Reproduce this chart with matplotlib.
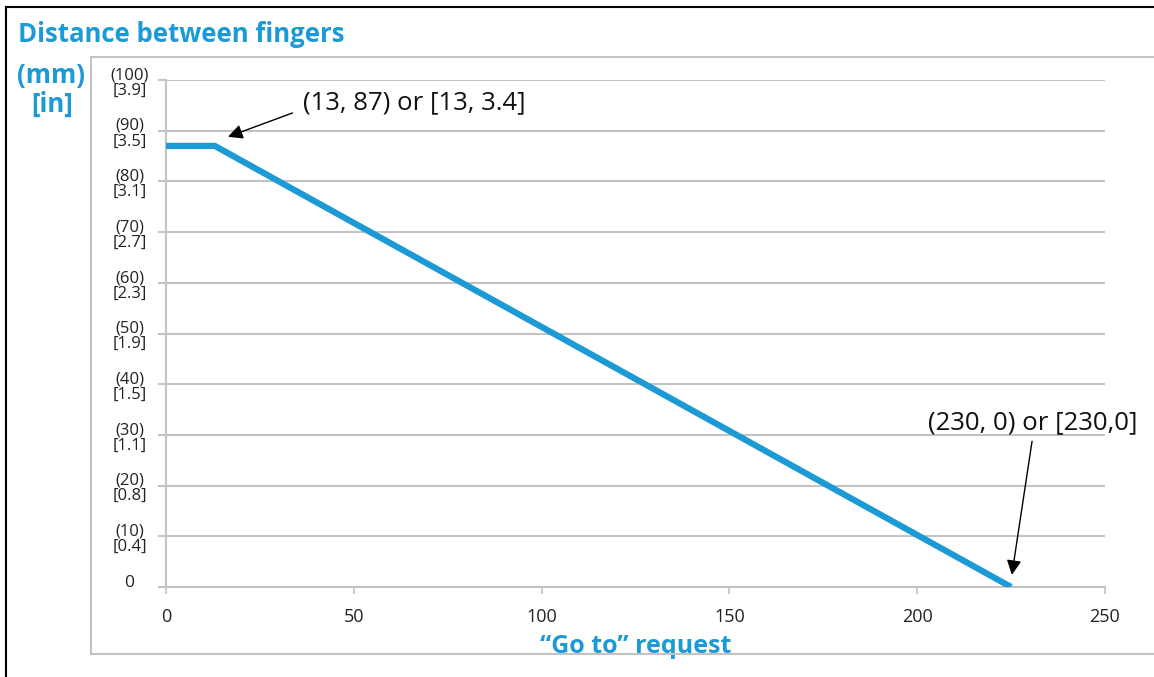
import matplotlib
matplotlib.use("Agg")
import matplotlib.pyplot as plt
from matplotlib.lines import Line2D
from matplotlib import transforms

plt.rcParams['font.family'] = ['Open Sans', 'DejaVu Sans']

# Data
x_vals = [0, 13, 225]
y_vals = [87, 87, 0]
x_ticks = [0, 50, 100, 150, 200, 250]
y_ticks = [0, 10, 20, 30, 40, 50, 60, 70, 80, 90, 100]
y_in_labels = ["", "0.4", "0.8", "1.1", "1.5", "1.9", "2.3", "2.7", "3.1", "3.5", "3.9"]

BLUE = "#1b9ad6"
GRID = "#c3c3c3"
TXT = "#222222"

W, H = 1154, 677
fig = plt.figure(figsize=(W / 100, H / 100), dpi=100)

def fx(px):
    return px / W

def fy(py):
    return 1 - py / H

# outer black border (top, left)
fig.add_artist(Line2D([fx(6), 1], [fy(7), fy(7)], color="black", lw=1.5, transform=fig.transFigure))
fig.add_artist(Line2D([fx(6), fx(6)], [fy(7), 0], color="black", lw=1.5, transform=fig.transFigure))
# gray frame
fig.add_artist(Line2D([fx(91), 1], [fy(57), fy(57)], color=GRID, lw=1.5, transform=fig.transFigure))
fig.add_artist(Line2D([fx(91), fx(91)], [fy(57), fy(654)], color=GRID, lw=1.5, transform=fig.transFigure))
fig.add_artist(Line2D([fx(91), 1], [fy(654), fy(654)], color=GRID, lw=1.5, transform=fig.transFigure))

ax = fig.add_axes([fx(166), fy(587), fx(1105) - fx(166), fy(80) - fy(587)])
ax.set_xlim(0, 250)
ax.set_ylim(0, 100)

for s in ["top", "right"]:
    ax.spines[s].set_visible(False)
ax.spines["left"].set_color(GRID)
ax.spines["left"].set_linewidth(1.5)
ax.spines["bottom"].set_color(GRID)
ax.spines["bottom"].set_linewidth(1.5)

ax.yaxis.grid(True, color=GRID, lw=1.5)
ax.set_axisbelow(True)

ax.plot(x_vals, y_vals, color=BLUE, lw=4.5, solid_capstyle="butt", solid_joinstyle="miter", zorder=3)

ax.set_xticks(x_ticks)
ax.set_xticklabels([str(v) for v in x_ticks], fontsize=13, color=TXT)
ax.tick_params(axis="x", length=5, width=1.2, color=GRID, pad=10)

ax.set_yticks(y_ticks)
ax.set_yticklabels([""] * len(y_ticks))
ax.tick_params(axis="y", length=6, width=1.5, color=GRID)

lab_x = (130 - 166) / (1105 - 166)
blend = transforms.blended_transform_factory(ax.transAxes, ax.transData)
for v, inch in zip(y_ticks, y_in_labels):
    if v == 0:
        ax.text((129 - 166) / (1105 - 166), v, "0", transform=transforms.offset_copy(blend, fig=fig, x=0, y=4, units="dots"),
                ha="center", va="center", fontsize=12.5, color=TXT)
    else:
        off = transforms.offset_copy(blend, fig=fig, x=0, y=-3, units="dots")
        ax.text(lab_x, v, f"({v})\n[{inch}]", transform=off,
                ha="center", va="center", fontsize=12, color=TXT, linespacing=0.95,
                multialignment="center")

ax.set_xlabel("\u201cGo to\u201d request", fontsize=18, fontweight="bold", color=BLUE, labelpad=6)

fig.text(fx(18), fy(35), "Distance between fingers", fontsize=18.5, fontweight="bold", color=BLUE,
         ha="left", va="center")
fig.text(fx(51), fy(75), "(mm)", fontsize=18.5, fontweight="bold", color=BLUE, ha="center", va="center")
fig.text(fx(52), fy(104), "[in]", fontsize=18.5, fontweight="bold", color=BLUE, ha="center", va="center")

ax.annotate("(13, 87) or [13, 3.4]", xy=(16.5, 88.8), xytext=(36.5, 95.5),
            fontsize=18.5, color="#111111", ha="left", va="center",
            arrowprops=dict(arrowstyle="-|>", color="black", lw=1.0, mutation_scale=22,
                            shrinkA=6, shrinkB=0, relpos=(0, 0.25)))
ax.annotate("(230, 0) or [230,0]", xy=(225.2, 2.4), xytext=(230.8, 32.3),
            fontsize=18.5, color="#111111", ha="center", va="center",
            arrowprops=dict(arrowstyle="-|>", color="black", lw=1.0, mutation_scale=22,
                            shrinkA=2, shrinkB=0, relpos=(0.5, 0)),
            annotation_clip=False)

fig.savefig("out.png", dpi=100)
